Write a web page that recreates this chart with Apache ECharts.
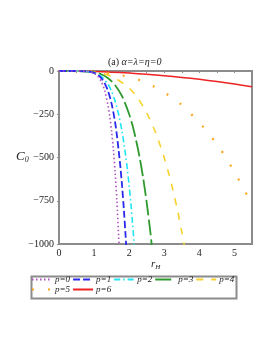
<!DOCTYPE html>
<html><head><meta charset="utf-8">
<script src="https://cdn.jsdelivr.net/npm/echarts@6/dist/echarts.min.js"></script>
<style>html,body{margin:0;padding:0;background:#fff}#c{width:273px;height:353px}</style>
</head><body><div id="c"></div>
<script>
// r_H values and C_0 values for each p
const r0 = [0,0.5,0.8,1.0,1.1,1.2,1.3,1.4,1.45,1.5,1.55,1.6,1.65,1.7,1.72];
const c0 = [0,-0.05,-2.3,-14,-29,-59,-112,-202,-267,-351,-455,-588,-752,-956,-1050];
const r1 = [0,0.5,0.8,1.0,1.1,1.2,1.3,1.4,1.5,1.6,1.65,1.7,1.75,1.8,1.85,1.9,1.93];
const c1 = [0,-0.09,-2.3,-11,-22,-40,-70,-118,-190,-298,-372,-460,-556,-670,-805,-960,-1060];
const r2 = [0,0.5,1.0,1.2,1.4,1.5,1.6,1.7,1.8,1.85,1.9,1.95,2.0,2.05,2.1,2.16];
const c2 = [0,-0.16,-10,-31,-78,-118,-175,-251,-354,-418,-490,-572,-665,-770,-890,-1050];
const r3 = [0,0.5,1.0,1.2,1.4,1.6,1.8,2.0,2.1,2.2,2.3,2.4,2.5,2.6,2.66];
const c3 = [0,-0.24,-7.8,-19,-42,-82,-147,-250,-318,-403,-502,-621,-762,-925,-1040];
const r4 = [0,0.5,1.0,1.5,2.0,2.25,2.5,2.75,3.0,3.125,3.25,3.375,3.5,3.6];
const c4 = [0,-0.4,-6.2,-31,-99,-159,-242,-355,-502,-591,-691,-803,-930,-1040];
const r5 = [0,0.5,1.0,1.5,1.81,2.26,2.67,3.07,3.43,3.76,4.07,4.36,4.62,4.86,5.09,5.31,5.5];
const c5 = [0,-0.6,-4.7,-16,-26,-50,-86,-133,-185,-248,-314,-386,-458,-536,-617,-697,-780];
const r6 = [0,0.5,1,1.5,2,2.5,3,3.5,4,4.5,5,5.5];
const c6 = [0,-0.75,-3,-6.8,-12,-19,-27,-37,-48,-61,-75,-91];
const names = ['p=0','p=1','p=2','p=3','p=4','p=5','p=6'];
const xTicks = [0,1,2,3,4,5];
const yTicks = [-1000,-750,-500,-250,0];

const rs=[r0,r1,r2,r3,r4,r5,r6], cs=[c0,c1,c2,c3,c4,c5,c6];
const colors=['#b052c0','#2a2aee','#1fe6f2','#2e9a2e','#f8d22c','#ffa51a','#ee2222'];
const dashes=[[1.5,2.5],[7,3],[6,3,1.5,3],[16,4],[7,8],[2,14],'solid'];
const widths=[1.6,1.8,1.6,1.8,1.6,2.2,1.5];
const serif='"Liberation Serif","DejaVu Serif",serif';

const series = names.map((n,i)=>({
  name:n, type:'line', symbol:'none', showSymbol:false, smooth:0.3,
  data: rs[i].map((r,j)=>[r,cs[i][j]]),
  lineStyle:{color:colors[i], width:widths[i], type:dashes[i], cap:'butt'},
  itemStyle:{color:colors[i]}, z: 10-i
}));

const legendCommon = {
  orient:'horizontal', itemWidth:20, itemHeight:9, itemGap:2, padding:0,
  itemStyle:{opacity:0, borderWidth:0},
  textStyle:{fontFamily:serif, fontStyle:'italic', fontSize:9, color:'#222', padding:[0,0,0,-2]}
};

const chart = echarts.init(document.getElementById('c'), null, {renderer:'canvas'});
chart.setOption({
  animation:false,
  grid:{left:59, right:21, top:71, bottom:109, show:true, borderColor:'#8c8c8c', borderWidth:2},
  xAxis:{type:'value', min:0, max:5.5, interval:1,
    axisLine:{lineStyle:{color:'#8c8c8c', width:2}},
    axisTick:{show:true, length:2, lineStyle:{color:'#8c8c8c'}},
    minorTick:{show:true, splitNumber:2, length:2, lineStyle:{color:'#8c8c8c'}},
    splitLine:{show:false},
    axisLabel:{showMaxLabel:false, fontFamily:serif, fontSize:10, color:'#222', margin:4,
      formatter:v=> xTicks.includes(v)? String(v):''}
  },
  yAxis:{type:'value', min:-1000, max:0, interval:250,
    axisLine:{lineStyle:{color:'#8c8c8c', width:2}},
    axisTick:{show:true, length:2, lineStyle:{color:'#8c8c8c'}},
    splitLine:{show:false},
    axisLabel:{fontFamily:serif, fontSize:10, color:'#222', margin:5,
      formatter:v=> yTicks.includes(v)? String(v).replace('-','\u2212'):''}
  },
  legend:[
    Object.assign({}, legendCommon, {left:31, top:275, data:names.slice(0,5)}),
    Object.assign({}, legendCommon, {left:31, top:285, data:names.slice(5)})
  ],
  graphic:[
    {type:'rect', left:29, top:274, shape:{width:205, height:22},
      style:{fill:'none', stroke:'#8c8c8c', lineWidth:2}, z:-1},
    {type:'text', left:108, top:57, style:{
      text:'{n|(a) }{i|α=λ=η=0}',
      rich:{n:{fontFamily:serif, fontSize:10, fill:'#222'}, i:{fontFamily:serif, fontSize:10, fontStyle:'italic', fill:'#222'}}}},
    {type:'text', left:16, top:150, style:{
      text:'{c|C}{s|0}',
      rich:{c:{fontFamily:serif, fontSize:13, fontStyle:'italic', fill:'#222'}, s:{fontFamily:serif, fontSize:8, fontStyle:'italic', fill:'#222', padding:[6,0,0,0]}}}},
    {type:'text', left:151, top:259, style:{
      text:'{c|r}{s|H}',
      rich:{c:{fontFamily:serif, fontSize:11, fontStyle:'italic', fill:'#222'}, s:{fontFamily:serif, fontSize:7, fontStyle:'italic', fill:'#222', padding:[5,0,0,0]}}}}
  ],
  series: series
});
</script></body></html>
